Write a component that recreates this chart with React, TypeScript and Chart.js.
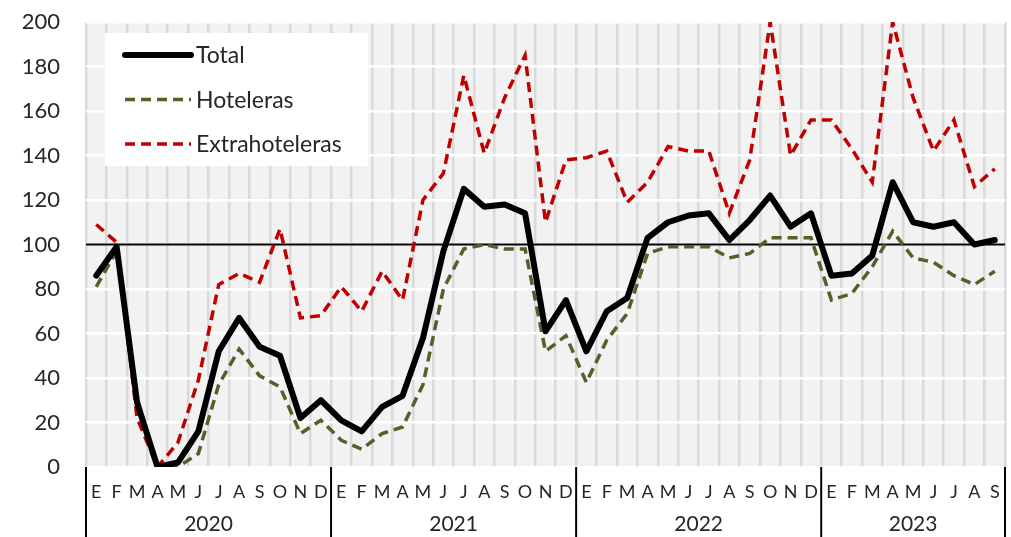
import React, { useEffect, useRef } from "react";
import { Chart, registerables } from "chart.js";

Chart.register(...registerables);

// ---------------- data ----------------
const years = ["2020", "2021", "2022", "2023"];
const monthsPerYear = [12, 12, 12, 9];
const monthNames = ["E", "F", "M", "A", "M", "J", "J", "A", "S", "O", "N", "D"];

const total = [
  86, 99, 29, 0, 2, 16, 52, 67, 54, 50, 22, 30,
  21, 16, 27, 32, 58, 97, 125, 117, 118, 114, 61, 75,
  52, 70, 76, 103, 110, 113, 114, 102, 111, 122, 108, 114,
  86, 87, 95, 128, 110, 108, 110, 100, 102,
];
const hoteleras = [
  81, 97, 31, 0, 0, 6, 37, 53, 41, 36, 15, 21,
  12, 8, 15, 18, 37, 80, 98, 100, 98, 98, 52, 59,
  38, 57, 69, 96, 99, 99, 99, 94, 96, 103, 103, 103,
  75, 78, 90, 106, 94, 92, 86, 82, 88,
];
const extrahoteleras = [
  109, 101, 22, 0, 11, 39, 82, 87, 83, 107, 67, 68,
  81, 70, 88, 75, 120, 132, 176, 141, 166, 185, 110, 138,
  139, 142, 119, 128, 144, 142, 142, 114, 138, 200, 140, 156,
  156, 143, 128, 200, 166, 142, 156, 126, 134,
];
const seriesNames = ["Total", "Hoteleras", "Extrahoteleras"];
const yMin = 0;
const yMax = 200;
const yStep = 20;
const referenceValue = 100;

const labels: string[] = [];
monthsPerYear.forEach((n) => {
  for (let i = 0; i < n; i++) labels.push(monthNames[i]);
});

const FONT = "Lato, 'Liberation Sans', sans-serif";
const TEXT = "#262626";

const backgroundPlugin = {
  id: "plotBg",
  beforeDraw(chart: any) {
    const { ctx, chartArea } = chart;
    ctx.save();
    ctx.fillStyle = "#f2f2f2";
    ctx.fillRect(chartArea.left, chartArea.top, chartArea.right - chartArea.left, chartArea.bottom - chartArea.top);
    ctx.restore();
  },
};

const referencePlugin = {
  id: "refLine",
  beforeDatasetsDraw(chart: any) {
    const { ctx, chartArea, scales } = chart;
    const y = scales.y.getPixelForValue(referenceValue);
    ctx.save();
    ctx.strokeStyle = "#000";
    ctx.lineWidth = 2;
    ctx.beginPath();
    ctx.moveTo(chartArea.left, y);
    ctx.lineTo(chartArea.right, y);
    ctx.stroke();
    ctx.restore();
  },
};

const yearAxisPlugin = {
  id: "yearAxis",
  afterDraw(chart: any) {
    const { ctx, chartArea, scales } = chart;
    const x = scales.x;
    const bottom = chart.height;
    ctx.save();
    ctx.strokeStyle = "#000";
    ctx.lineWidth = 2;
    ctx.fillStyle = TEXT;
    ctx.font = `21px ${FONT}`;
    ctx.textAlign = "center";
    ctx.textBaseline = "middle";
    let start = 0;
    const half = (x.getPixelForValue(1) - x.getPixelForValue(0)) / 2;
    const boundaries: number[] = [];
    years.forEach((yr, i) => {
      const end = start + monthsPerYear[i] - 1;
      const left = x.getPixelForValue(start) - half;
      const right = x.getPixelForValue(end) + half;
      if (i === 0) boundaries.push(left);
      boundaries.push(right);
      ctx.fillText(yr, (left + right) / 2, 524);
      start = end + 1;
    });
    boundaries.forEach((bx) => {
      ctx.beginPath();
      ctx.moveTo(bx, chartArea.bottom);
      ctx.lineTo(bx, bottom);
      ctx.stroke();
    });
    ctx.restore();
  },
};

const legendPlugin = {
  id: "insideLegend",
  afterDraw(chart: any) {
    const { ctx, chartArea } = chart;
    const bx = chartArea.left + 19;
    const by = chartArea.top + 11;
    ctx.save();
    ctx.fillStyle = "#ffffff";
    ctx.fillRect(bx, by, 263, 133);
    ctx.font = `23px ${FONT}`;
    ctx.textBaseline = "middle";
    ctx.textAlign = "left";
    chart.data.datasets.forEach((ds: any, i: number) => {
      const yy = by + 22 + i * 44.5;
      ctx.strokeStyle = ds.borderColor;
      ctx.lineWidth = ds.borderWidth;
      ctx.setLineDash(ds.borderDash || []);
      ctx.lineCap = ds.borderCapStyle || "butt";
      ctx.beginPath();
      ctx.moveTo(bx + 20, yy);
      ctx.lineTo(bx + 86, yy);
      ctx.stroke();
      ctx.setLineDash([]);
      ctx.fillStyle = TEXT;
      ctx.fillText(ds.label, bx + 91, yy + 1);
    });
    ctx.restore();
  },
};

export default function App() {
  const ref = useRef<HTMLCanvasElement | null>(null);

  useEffect(() => {
    document.body.style.margin = "0";
    const canvas = ref.current;
    if (!canvas) return;
    const chart = new Chart(canvas, {
      type: "line",
      data: {
        labels,
        datasets: [
          {
            label: seriesNames[0],
            data: total,
            borderColor: "#000000",
            borderWidth: 6,
            borderCapStyle: "round",
            borderJoinStyle: "round",
            pointRadius: 0,
            tension: 0,
            order: 1,
          },
          {
            label: seriesNames[1],
            data: hoteleras,
            borderColor: "#4f6228",
            borderWidth: 3.5,
            borderDash: [10, 6],
            pointRadius: 0,
            tension: 0,
            order: 2,
          },
          {
            label: seriesNames[2],
            data: extrahoteleras,
            borderColor: "#c00000",
            borderWidth: 3.5,
            borderDash: [10, 6],
            pointRadius: 0,
            tension: 0,
            order: 3,
          },
        ] as any,
      },
      options: {
        responsive: false,
        animation: false,
        maintainAspectRatio: false,
        layout: { padding: { top: 22, right: 6, left: 0, bottom: 0 } },
        plugins: {
          legend: { display: false },
          tooltip: { enabled: false },
        },
        scales: {
          x: {
            type: "category",
            offset: true,
            grid: {
              offset: true,
              color: "#d9d9d9",
              lineWidth: 2.5,
              drawTicks: false,
            },
            border: { display: false },
            ticks: {
              color: TEXT,
              font: { family: FONT, size: 18 },
              padding: 14,
              maxRotation: 0,
              autoSkip: false,
            },
            afterFit(scale: any) {
              scale.height = 70;
              scale.paddingLeft = 0;
              scale.paddingRight = 0;
            },
          },
          y: {
            min: yMin,
            max: yMax,
            grid: { color: "#ffffff", lineWidth: 2.5, drawTicks: false },
            border: { display: false },
            ticks: {
              stepSize: yStep,
              color: TEXT,
              font: { family: FONT, size: 22 },
              padding: 26,
            },
            afterFit(scale: any) {
              scale.width = 86;
              scale.paddingTop = 0;
              scale.paddingBottom = 0;
            },
          },
        },
      },
      plugins: [backgroundPlugin, referencePlugin, yearAxisPlugin, legendPlugin],
    });
    return () => chart.destroy();
  }, []);

  return (
    <div style={{ width: 1011, height: 537 }}>
      <canvas ref={ref} width={1011} height={537} style={{ display: "block" }} />
    </div>
  );
}
